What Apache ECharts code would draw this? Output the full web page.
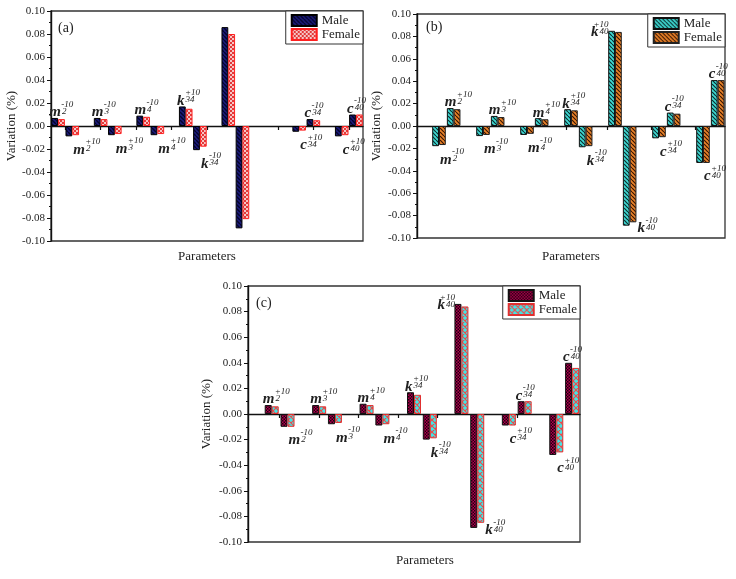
<!DOCTYPE html>
<html>
<head>
<meta charset="utf-8">
<script src="https://cdn.jsdelivr.net/npm/echarts@6/dist/echarts.min.js"></script>
<style>
  html, body { margin: 0; padding: 0; background: #fff; }
  #chart { width: 736px; height: 579px; }
</style>
</head>
<body>
<div id="chart"></div>
<script>
// ---- data ----
var yTicks = [-0.10, -0.08, -0.06, -0.04, -0.02, 0.00, 0.02, 0.04, 0.06, 0.08, 0.10];

// panel (a)
var catsA = ['m2-10', 'm2+10', 'gapA1', 'm3-10', 'm3+10', 'gapA2', 'm4-10', 'm4+10', 'gapA3',
    'k34+10', 'k34-10', 'gapA4', 'k40+10', 'k40-10', 'gapA5', 'gapA6', 'gapA7',
    'c34+10', 'c34-10', 'gapA8', 'c40+10', 'c40-10'];
var labelsA = ['m_2^-10', 'm_2^+10', '', 'm_3^-10', 'm_3^+10', '', 'm_4^-10', 'm_4^+10', '',
    'k_34^+10', 'k_34^-10', '', '', '', '', '', '',
    'c_34^+10', 'c_34^-10', '', 'c_40^+10', 'c_40^-10'];
var maleA = [0.007, -0.009, '-', 0.007, -0.008, '-', 0.009, -0.008, '-',
    0.017, -0.021, '-', 0.086, -0.089, '-', '-', '-',
    -0.005, 0.006, '-', -0.009, 0.010];
var femaleA = [0.006, -0.008, '-', 0.006, -0.007, '-', 0.008, -0.007, '-',
    0.015, -0.018, '-', 0.080, -0.081, '-', '-', '-',
    -0.004, 0.005, '-', -0.008, 0.010];
var xTicksA = [1, 3.5, 6, 8.5, 11, 13.5, 16, 18.5, 21];

// panel (b)
var catsB = ['gapB0', 'm2-10', 'm2+10', 'gapB1', 'm3-10', 'm3+10', 'gapB2', 'm4-10', 'm4+10', 'gapB3',
    'k34+10', 'k34-10', 'gapB4', 'k40+10', 'k40-10', 'gapB5', 'c34+10', 'c34-10', 'gapB6', 'c40+10', 'c40-10'];
var labelsB = ['', 'm_2^-10', 'm_2^+10', '', 'm_3^-10', 'm_3^+10', '', 'm_4^-10', 'm_4^+10', '',
    'k_34^+10', 'k_34^-10', '', 'k_40^+10', 'k_40^-10', '', 'c_34^+10', 'c_34^-10', '', 'c_40^+10', 'c_40^-10'];
var maleB = ['-', -0.018, 0.016, '-', -0.009, 0.009, '-', -0.008, 0.007, '-',
    0.015, -0.019, '-', 0.085, -0.089, '-', -0.011, 0.012, '-', -0.033, 0.041];
var femaleB = ['-', -0.017, 0.015, '-', -0.008, 0.008, '-', -0.007, 0.006, '-',
    0.014, -0.018, '-', 0.084, -0.086, '-', -0.010, 0.011, '-', -0.033, 0.041];
var xTicksB = [1.5, 4.5, 7.2, 10.2, 13, 16, 19];

// panel (c)
var catsC = ['gapC0', 'm2+10', 'm2-10', 'gapC1', 'm3+10', 'm3-10', 'gapC2', 'm4+10', 'm4-10', 'gapC3',
    'k34+10', 'k34-10', 'gapC4', 'k40+10', 'k40-10', 'gapC5', 'c34+10', 'c34-10', 'gapC6', 'c40+10', 'c40-10'];
var labelsC = ['', 'm_2^+10', 'm_2^-10', '', 'm_3^+10', 'm_3^-10', '', 'm_4^+10', 'm_4^-10', '',
    'k_34^+10', 'k_34^-10', '', 'k_40^+10', 'k_40^-10', '', 'c_34^+10', 'c_34^-10', '', 'c_40^+10', 'c_40^-10'];
var maleC = ['-', 0.007, -0.010, '-', 0.007, -0.008, '-', 0.008, -0.009, '-',
    0.017, -0.020, '-', 0.086, -0.089, '-', -0.009, 0.010, '-', -0.032, 0.040];
var femaleC = ['-', 0.006, -0.010, '-', 0.006, -0.007, '-', 0.007, -0.008, '-',
    0.015, -0.019, '-', 0.084, -0.085, '-', -0.009, 0.010, '-', -0.030, 0.036];
var xTicksC = [2, 4.5, 7, 9.5, 12, 14.5, 17, 19.5];

// ---- helpers ----
var SERIF = '"Liberation Serif", "Times New Roman", serif';
var INK = '#222';

// small repeating fills, like the Origin hatch patterns
function pattern(bg, fg, kind, size, lw) {
    var c = document.createElement('canvas');
    c.width = c.height = size;
    var g = c.getContext('2d');
    g.fillStyle = bg;
    g.fillRect(0, 0, size, size);
    g.strokeStyle = fg;
    g.fillStyle = fg;
    g.lineWidth = lw || 1;
    if (kind === 'check') {
        var h = size / 2;
        g.fillRect(0, 0, h, h);
        g.fillRect(h, h, h, h);
    } else {
        g.beginPath();
        for (var k = -size; k <= size; k += size) {
            if (kind === 'back' || kind === 'cross') {
                g.moveTo(k, 0); g.lineTo(k + size, size);
            }
            if (kind === 'fwd' || kind === 'cross') {
                g.moveTo(k + size, 0); g.lineTo(k, size);
            }
        }
        g.stroke();
    }
    return { image: c, repeat: 'repeat' };
}

var measure = document.createElement('canvas').getContext('2d');
measure.font = 'italic bold 15px "Liberation Serif"';

var RICH = {
    base: { fontFamily: SERIF, fontSize: 15, fontStyle: 'italic', fontWeight: 'bold', color: INK,
        lineHeight: 11, verticalAlign: 'top', padding: [0, 0, 4, 0] },
    sub: { fontFamily: SERIF, fontSize: 9, fontStyle: 'italic', color: INK,
        lineHeight: 9, verticalAlign: 'bottom', padding: [0, 0, 0, 1] }
};
['m', 'k', 'c'].forEach(function (ch) {
    RICH['sup' + ch] = { fontFamily: SERIF, fontSize: 9, fontStyle: 'italic', color: INK,
        lineHeight: 1, padding: [0, 0, 0, Math.round(measure.measureText(ch).width)] };
});

// 'm_2^-10' -> two line rich text with super over sub
function richText(s) {
    if (!s) return '';
    var base = s.charAt(0);
    var sub = s.slice(2, s.indexOf('^'));
    var sup = s.slice(s.indexOf('^') + 1);
    return '{sup' + base + '|' + sup + '}\n{base|' + base + '}{sub|' + sub + '}';
}

function placeLabel(v, bw) {
    var big = Math.abs(v) > 0.05;
    if (v >= 0 && !big) {
        return { position: 'top', align: 'left', verticalAlign: 'bottom', distance: 2, offset: [-bw / 2 - 2, 0] };
    }
    if (v < 0 && !big) {
        return { position: 'bottom', align: 'left', verticalAlign: 'top', distance: 5, offset: [bw / 2 + 1, 0] };
    }
    if (v >= 0) {
        return { position: 'top', align: 'right', verticalAlign: 'middle', distance: 0, offset: [-3, -1] };
    }
    return { position: 'bottom', align: 'left', verticalAlign: 'middle', distance: 0, offset: [1.5 * bw + 1, 0] };
}

function maleData(values, labels, bw) {
    return values.map(function (v, i) {
        if (v === '-') return '-';
        if (!labels[i]) return v;
        return { value: v, label: placeLabel(v, bw) };
    });
}

// ---- panels ----
var panels = [
    { tag: '(a)', cats: catsA, labels: labelsA, male: maleA, female: femaleA, ticks: xTicksA,
      grid: { left: 51, top: 11, width: 312, height: 230 }, bw: 6.8,
      yGap: 32, xGap: 9, xShift: 0, legend: { right: 373, top: 11 }, title: { left: 53, top: 16 },
      maleFill: pattern('#1d1d7c', '#04042c', 'back', 4, 1.4), maleBorder: '#000',
      femaleFill: pattern('#f6c6c6', '#e23a3a', 'check', 4), femaleBorder: '#ff2020' },
    { tag: '(b)', cats: catsB, labels: labelsB, male: maleB, female: femaleB, ticks: xTicksB,
      grid: { left: 417, top: 14, width: 308, height: 224 }, bw: 6.8,
      yGap: 34, xGap: 12, xShift: 0, legend: { right: 11, top: 14 }, title: { left: 421, top: 15 },
      maleFill: pattern('#3fd8d2', '#0c2e2e', 'back', 4, 1.2), maleBorder: '#111',
      femaleFill: pattern('#e9822a', '#3a1600', 'back', 4, 1.2), femaleBorder: '#222' },
    { tag: '(c)', cats: catsC, labels: labelsC, male: maleC, female: femaleC, ticks: xTicksC,
      grid: { left: 248, top: 286, width: 332, height: 256 }, bw: 7,
      yGap: 35, xGap: 12, xShift: 22, legend: { right: 156, top: 286 }, title: { left: 251, top: 291 },
      maleFill: pattern('#b3004f', '#1e000e', 'check', 3), maleBorder: '#111',
      femaleFill: pattern('#40e6e6', '#f04848', 'cross', 6, 1.1), femaleBorder: '#e03030' }
];

var step = Math.round((yTicks[1] - yTicks[0]) * 1000) / 1000;

var option = {
    backgroundColor: '#fff',
    animation: false,
    title: [], grid: [], xAxis: [], yAxis: [], legend: [], series: []
};

panels.forEach(function (p, i) {
    option.grid.push(Object.assign({ show: true, borderColor: '#333', borderWidth: 1.3 }, p.grid));
    option.title.push({ text: p.tag, left: p.title.left, top: p.title.top,
        textStyle: { fontFamily: SERIF, fontSize: 14, fontWeight: 'normal', color: INK } });
    // axis through zero carrying the bars
    option.xAxis.push({
        type: 'category', gridIndex: i, data: p.cats,
        axisLine: { onZero: true, lineStyle: { color: '#111', width: 1.4 } },
        axisTick: { show: false }, axisLabel: { show: false }, splitLine: { show: false }
    });
    // bottom axis only for the name
    option.xAxis.push({
        type: 'category', gridIndex: i, data: p.cats, position: 'bottom',
        axisLine: { show: false, onZero: false }, axisTick: { show: false }, axisLabel: { show: false },
        name: 'Parameters', nameLocation: 'middle', nameGap: p.xGap,
        nameTextStyle: { fontFamily: SERIF, fontSize: 13, color: INK, padding: [0, 0, 0, p.xShift] }
    });
    // small upward ticks sitting on the zero line
    option.xAxis.push({
        type: 'value', gridIndex: i, min: 0, max: p.cats.length,
        axisLine: { show: false, onZero: true, onZeroAxisIndex: i },
        axisTick: { show: true, inside: true, length: 4, customValues: p.ticks,
            lineStyle: { color: '#111', width: 1.2 } },
        axisLabel: { show: false }, splitLine: { show: false }
    });
    option.yAxis.push({
        type: 'value', gridIndex: i,
        min: yTicks[0], max: yTicks[yTicks.length - 1], interval: step,
        name: 'Variation (%)', nameLocation: 'middle', nameGap: p.yGap,
        nameTextStyle: { fontFamily: SERIF, fontSize: 13, color: INK },
        axisLine: { show: true, lineStyle: { color: '#111', width: 1.4 } },
        axisTick: { show: true, length: 4, lineStyle: { color: '#111' } },
        minorTick: { show: true, splitNumber: 2, length: 2, lineStyle: { color: '#111' } },
        splitLine: { show: false },
        axisLabel: { fontFamily: SERIF, fontSize: 11, color: INK, margin: 6,
            formatter: function (v) { return v.toFixed(2); } }
    });
    option.legend.push({
        right: p.legend.right, top: p.legend.top, orient: 'vertical',
        data: ['Male ' + p.tag, 'Female ' + p.tag],
        formatter: function (name) { return name.split(' ')[0]; },
        selectedMode: false, icon: 'rect', itemWidth: 25, itemHeight: 11, itemGap: 1,
        padding: [3, 3, 3, 5], borderColor: '#333', borderWidth: 1, borderRadius: 0,
        backgroundColor: '#fff',
        textStyle: { fontFamily: SERIF, fontSize: 13, lineHeight: 12, color: INK }
    });
    option.series.push({
        name: 'Male ' + p.tag, type: 'bar', xAxisIndex: 3 * i, yAxisIndex: i,
        barWidth: p.bw, barGap: '0%',
        itemStyle: { color: p.maleFill, borderColor: p.maleBorder, borderWidth: 1 },
        label: { show: true, color: INK, rich: RICH,
            formatter: (function (labels) {
                return function (q) { return richText(labels[q.dataIndex]); };
            })(p.labels) },
        data: maleData(p.male, p.labels, p.bw)
    });
    option.series.push({
        name: 'Female ' + p.tag, type: 'bar', xAxisIndex: 3 * i, yAxisIndex: i,
        barWidth: p.bw, barGap: '0%',
        itemStyle: { color: p.femaleFill, borderColor: p.femaleBorder, borderWidth: 1 },
        data: p.female
    });
});

var chart = echarts.init(document.getElementById('chart'), null, { renderer: 'canvas' });
chart.setOption(option);
</script>
</body>
</html>
